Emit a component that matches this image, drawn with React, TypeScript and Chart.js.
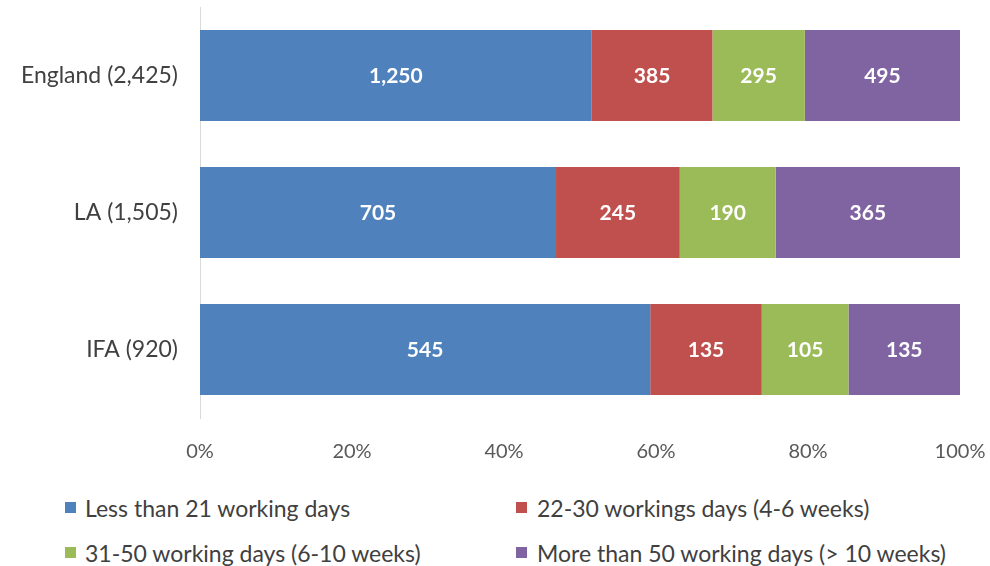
import React, { useEffect, useRef } from "react";
import { Chart, registerables } from "chart.js";

Chart.register(...registerables);

const categories = ["England (2,425)", "LA (1,505)", "IFA (920)"];
const seriesNames = [
  "Less than 21 working days",
  "22-30 workings days (4-6 weeks)",
  "31-50 working days (6-10 weeks)",
  "More than 50 working days (> 10 weeks)",
];
const lessThan21 = [1250, 705, 545];
const days22to30 = [385, 245, 135];
const days31to50 = [295, 190, 105];
const moreThan50 = [495, 365, 135];
const xTickLabels = ["0%", "20%", "40%", "60%", "80%", "100%"];
const colors = ["#4F81BD", "#C0504D", "#9BBB59", "#8064A2"];

const FONT = "Lato, 'Noto Sans', sans-serif";

const seriesCounts = [lessThan21, days22to30, days31to50, moreThan50];
const totals = categories.map((_, i) =>
  seriesCounts.reduce((s, arr) => s + arr[i], 0)
);

const valueLabelPlugin = {
  id: "valueLabels",
  afterDatasetsDraw(chart: any) {
    const ctx = chart.ctx;
    ctx.save();
    ctx.fillStyle = "#ffffff";
    ctx.font = `bold 21px ${FONT}`;
    ctx.textAlign = "center";
    ctx.textBaseline = "middle";
    chart.data.datasets.forEach((ds: any, di: number) => {
      const meta = chart.getDatasetMeta(di);
      meta.data.forEach((bar: any, i: number) => {
        const p = bar.getProps(["x", "y", "base"], true);
        const cx = (p.x + p.base) / 2;
        const label = ds.counts[i].toLocaleString("en-GB");
        ctx.fillText(label, cx, p.y + 1);
      });
    });
    ctx.restore();
  },
};

export default function App() {
  const canvasRef = useRef<HTMLCanvasElement | null>(null);

  useEffect(() => {
    if (!canvasRef.current) return;
    const chart = new Chart(canvasRef.current, {
      type: "bar",
      data: {
        labels: categories,
        datasets: seriesCounts.map((arr, k) => ({
          label: seriesNames[k],
          data: arr.map((v, i) => (v / totals[i]) * 100),
          counts: arr,
          backgroundColor: colors[k],
          borderWidth: 0,
          categoryPercentage: 1,
          barPercentage: 0.665,
        })) as any,
      },
      options: {
        indexAxis: "y",
        animation: false,
        responsive: false,
        maintainAspectRatio: false,
        devicePixelRatio: 1,
        layout: { padding: { top: 7, right: 30, left: 0, bottom: 0 } },
        plugins: {
          legend: { display: false },
          tooltip: { enabled: false },
        },
        scales: {
          x: {
            stacked: true,
            min: 0,
            max: 100,
            grid: { display: false, drawTicks: false },
            border: { display: false },
            ticks: {
              stepSize: 20,
              padding: 22,
              color: "#595959",
              font: { family: FONT, size: 20 },
              callback: (_v: any, i: number) => xTickLabels[i],
            },
            afterFit: (scale: any) => {
              scale.height = 62;
              scale.paddingLeft = 0;
              scale.paddingRight = 0;
            },
          },
          y: {
            stacked: true,
            grid: { display: false, drawTicks: false },
            border: { display: true, color: "#d9d9d9", width: 1 },
            ticks: {
              padding: 22,
              color: "#404040",
              font: { family: FONT, size: 23 },
            },
            afterFit: (scale: any) => {
              scale.width = 200;
              scale.paddingTop = 0;
              scale.paddingBottom = 0;
            },
          },
        },
      },
      plugins: [valueLabelPlugin],
    });
    return () => chart.destroy();
  }, []);

  const legendPos = [
    { mx: 65, tx: 85, y: 508 },
    { mx: 516, tx: 537, y: 508 },
    { mx: 65, tx: 85, y: 553 },
    { mx: 516, tx: 537, y: 553 },
  ];

  return (
    <div
      style={{
        position: "absolute",
        left: 0,
        top: 0,
        width: 990,
        height: 566,
        background: "#ffffff",
        fontFamily: FONT,
        overflow: "hidden",
      }}
    >
      <canvas
        ref={canvasRef}
        width={990}
        height={480}
        style={{ position: "absolute", left: 0, top: 0, width: 990, height: 480 }}
      />
      {seriesNames.map((name, k) => (
        <React.Fragment key={name}>
          <div
            style={{
              position: "absolute",
              left: legendPos[k].mx,
              top: legendPos[k].y - 6,
              width: 11,
              height: 11,
              background: colors[k],
            }}
          />
          <div
            style={{
              position: "absolute",
              left: legendPos[k].tx,
              top: legendPos[k].y - 14,
              height: 28,
              lineHeight: "28px",
              fontSize: 23,
              color: "#404040",
              whiteSpace: "nowrap",
            }}
          >
            {name}
          </div>
        </React.Fragment>
      ))}
    </div>
  );
}
